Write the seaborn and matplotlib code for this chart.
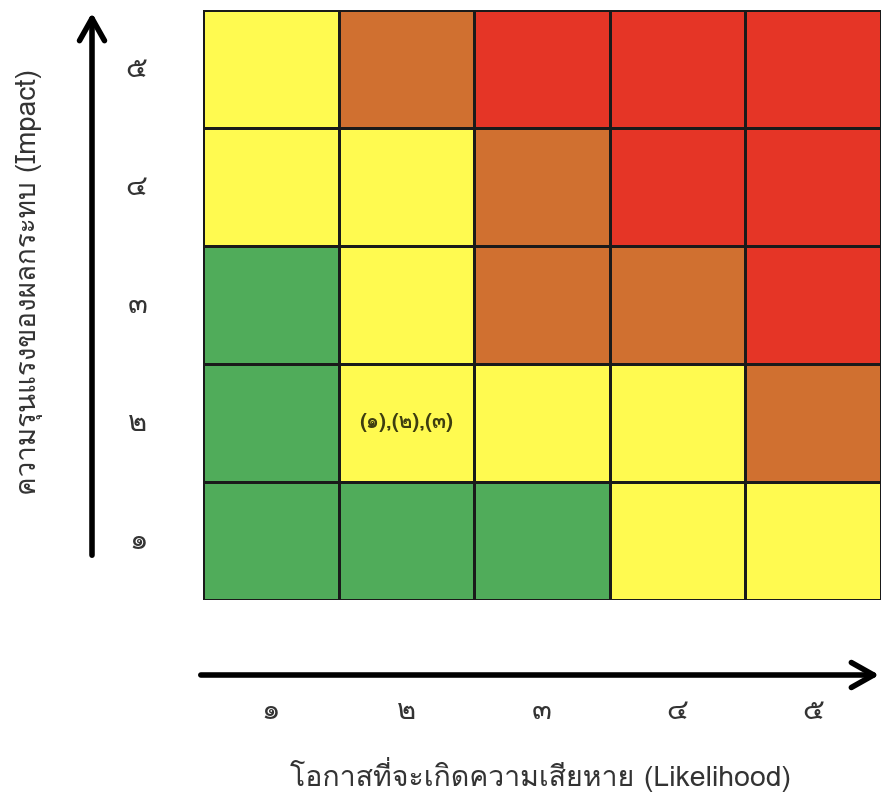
import numpy as np
import pandas as pd
import matplotlib
matplotlib.use("Agg")
import matplotlib.pyplot as plt
from matplotlib import font_manager
from matplotlib.colors import ListedColormap
from matplotlib.ft2font import FT2Font
import seaborn as sns

#%% data
likelihood_labels = ["๑", "๒", "๓", "๔", "๕"]
impact_labels = ["๕", "๔", "๓", "๒", "๑"]   # top to bottom

# risk level per cell: 1 green, 2 yellow, 3 orange, 4 red
risk_level = [
    [2, 3, 4, 4, 4],   # impact 5
    [2, 2, 3, 4, 4],   # impact 4
    [1, 2, 3, 3, 4],   # impact 3
    [1, 2, 2, 2, 3],   # impact 2
    [1, 1, 1, 2, 2],   # impact 1
]
cell_notes = [
    ["", "", "", "", ""],
    ["", "", "", "", ""],
    ["", "", "", "", ""],
    ["", "(๑),(๒),(๓)", "", "", ""],
    ["", "", "", "", ""],
]
level_colors = ["#50AC5A", "#FFFA50", "#D07030", "#E53526"]

x_title = "โอกาสที่จะเกิดความเสียหาย (Likelihood)"
y_title = "ความรุนแรงของผลกระทบ (Impact)"

#%% find a font with Thai glyphs
thai_font = None
for f in font_manager.fontManager.ttflist:
    try:
        cmap = FT2Font(f.fname).get_charmap()
    except Exception:
        continue
    if ord("ก") in cmap and ord("๑") in cmap:
        thai_font = f.name
        break

sns.set_theme(style="white")
families = [thai_font, "DejaVu Sans"] if thai_font else ["DejaVu Sans"]
plt.rcParams["font.family"] = families

#%% plot
df = pd.DataFrame(risk_level, index=impact_labels, columns=likelihood_labels)

fig = plt.figure(figsize=(8.83, 7.98), dpi=100)
ax = fig.add_axes([203 / 883, 1 - 600 / 798, 678 / 883, 590 / 798])

sns.heatmap(df, cmap=ListedColormap(level_colors), vmin=0.5, vmax=4.5,
            cbar=False, linewidths=1.0, linecolor="#1a1a1a",
            annot=np.array(cell_notes), fmt="",
            annot_kws={"size": 15, "weight": "bold", "color": "#3d3d10"},
            ax=ax)

ax.tick_params(axis="x", length=0, pad=70, labelsize=21, labelcolor="#333333")
ax.tick_params(axis="y", length=0, pad=40, labelsize=21, labelcolor="#333333")
ax.set_yticklabels(impact_labels, rotation=0)
ax.set_xticklabels(likelihood_labels, rotation=0)
ax.set_xlabel("")
ax.set_ylabel("")

# arrows
W, H = 883, 798
fig.add_artist(matplotlib.patches.FancyArrowPatch(
    (92 / W, 1 - 558 / H), (92 / W, 1 - 10 / H), transform=fig.transFigure,
    arrowstyle="->,head_length=0.8,head_width=0.45", lw=4, color="black",
    mutation_scale=20))
fig.add_artist(matplotlib.patches.FancyArrowPatch(
    (198 / W, 1 - 675 / H), (882 / W, 1 - 675 / H), transform=fig.transFigure,
    arrowstyle="->,head_length=0.8,head_width=0.45", lw=4, color="black",
    mutation_scale=20))

fig.text(540 / W, 1 - 775 / H, x_title, ha="center", va="center",
         fontsize=20.5, color="#333333")
fig.text(30 / W, 1 - 282 / H, y_title, ha="center", va="center",
         rotation=90, fontsize=20, color="#333333")

plt.savefig("out.png", dpi=100)
